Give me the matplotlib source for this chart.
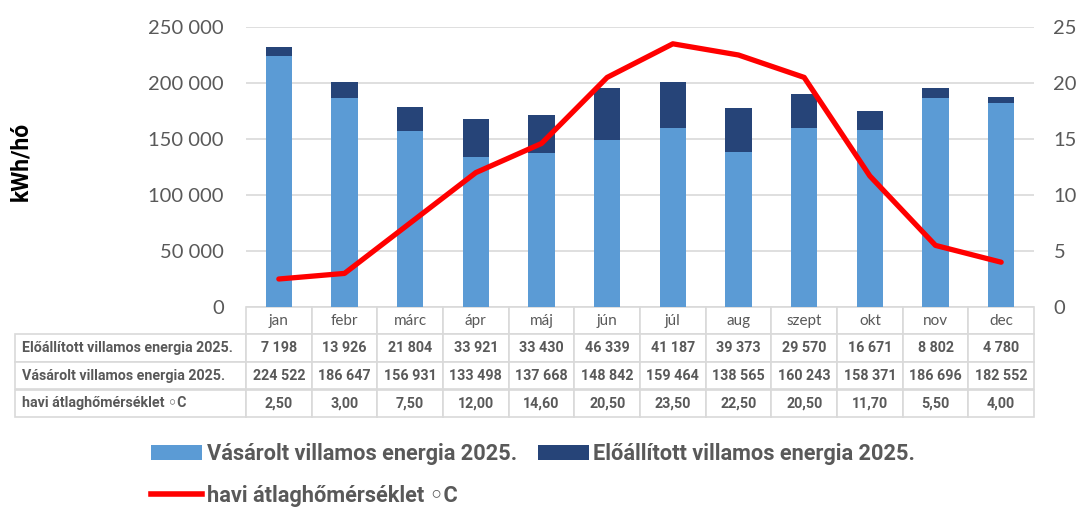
import numpy as np
import matplotlib
matplotlib.use('Agg')
from matplotlib import pyplot as plt
from matplotlib.patches import Patch
from matplotlib.lines import Line2D

plt.rcParams['font.family'] = ['Lato', 'DejaVu Sans']
bold_family = ['Roboto', 'DejaVu Sans']

months = ['jan', 'febr', 'márc', 'ápr', 'máj', 'jún', 'júl', 'aug', 'szept', 'okt', 'nov', 'dec']
produced = [7198, 13926, 21804, 33921, 33430, 46339, 41187, 39373, 29570, 16671, 8802, 4780]
purchased = [224522, 186647, 156931, 133498, 137668, 148842, 159464, 138565, 160243, 158371, 186696, 182552]
temperature = [2.5, 3.0, 7.5, 12.0, 14.6, 20.5, 23.5, 22.5, 20.5, 11.7, 5.5, 4.0]

label_produced = 'Előállított villamos energia 2025.'
label_purchased = 'Vásárolt villamos energia 2025.'
label_temp = 'havi átlaghőmérséklet ◦C'

c_light = '#5B9BD5'
c_dark = '#264478'
c_red = '#FF0000'
c_text = '#595959'
c_grid = '#D9D9D9'


def fmt_int(v):
    return f'{v:,.0f}'.replace(',', ' ')


def fmt_dec(v):
    return f'{v:.2f}'.replace('.', ',')


W, H = 1085, 509
fig = plt.figure(figsize=(W / 100, H / 100), dpi=100)

# plot area in pixels
left, right, top, bottom = 246, 1034, 27, 307
ax = fig.add_axes([left / W, 1 - bottom / H, (right - left) / W, (bottom - top) / H])

x = np.arange(len(months))
ax.bar(x, purchased, width=0.4, color=c_light, zorder=2)
ax.bar(x, produced, width=0.4, bottom=purchased, color=c_dark, zorder=2)

ax.set_xlim(-0.5, len(months) - 0.5)
ax.set_ylim(0, 250000)
ax.set_yticks(np.arange(0, 250001, 50000))
ax.set_yticklabels([fmt_int(v) for v in np.arange(0, 250001, 50000)])
ax.set_xticks([])
ax.yaxis.grid(True, color=c_grid, linewidth=1.2)
ax.set_axisbelow(True)
for s in ax.spines.values():
    s.set_visible(False)
ax.tick_params(axis='y', length=0, pad=16, labelsize=14.5, labelcolor=c_text)
ax.set_ylabel('kWh/hó', fontsize=16.5, fontweight='bold', color='black', family=bold_family)
ax.yaxis.set_label_coords(-(left - 32) / (right - left), 0.52)

ax2 = ax.twinx()
ax2.plot(x, temperature, color=c_red, linewidth=3.8, solid_capstyle='round', solid_joinstyle='round')
ax2.set_ylim(0, 25)
ax2.set_yticks(np.arange(0, 26, 5))
for s in ax2.spines.values():
    s.set_visible(False)
ax2.tick_params(axis='y', length=0, pad=14, labelsize=14.5, labelcolor=c_text)

# data table under the chart
plot_w = right - left
plot_h = bottom - top
label_w = left - 15
col_w = plot_w / len(months)
tbl_h = 417 - bottom
cell_text = [
    [label_produced] + [fmt_int(v) for v in produced],
    [label_purchased] + [fmt_int(v) for v in purchased],
    [label_temp] + [fmt_dec(v) for v in temperature],
]
tbl = ax.table(cellText=cell_text,
               colLabels=[''] + months,
               colWidths=[label_w / plot_w] + [col_w / plot_w] * len(months),
               cellLoc='center',
               bbox=[-label_w / plot_w, -tbl_h / plot_h, (plot_w + label_w) / plot_w, tbl_h / plot_h])
tbl.auto_set_font_size(False)
tbl.set_fontsize(10.3)
for (r, c), cell in tbl.get_celld().items():
    cell.set_edgecolor(c_grid)
    cell.set_linewidth(1.2)
    t = cell.get_text()
    t.set_color(c_text)
    if c == 0:
        cell.PAD = 0.03
        t.set_horizontalalignment('left')
        cell._loc = 'left'
    if r == 0:
        t.set_fontsize(11)
        if c == 0:
            cell.visible_edges = ''
    else:
        t.set_family(bold_family)
        t.set_fontweight('bold')

handles = [Patch(facecolor=c_light), Line2D([0], [0], color=c_red, linewidth=4),
           Patch(facecolor=c_dark)]
labels = [label_purchased, label_temp, label_produced]
leg = fig.legend(handles, labels, ncol=2, loc='upper left',
                 bbox_to_anchor=(151 / W, 1 - 443 / H), frameon=False,
                 prop={'size': 15.7, 'weight': 'bold', 'family': bold_family}, labelcolor=c_text,
                 handlelength=2.34, handleheight=0.64, handletextpad=0.22,
                 columnspacing=0.95, labelspacing=0.9, borderpad=0, borderaxespad=0)

fig.savefig('out.png', dpi=100)
